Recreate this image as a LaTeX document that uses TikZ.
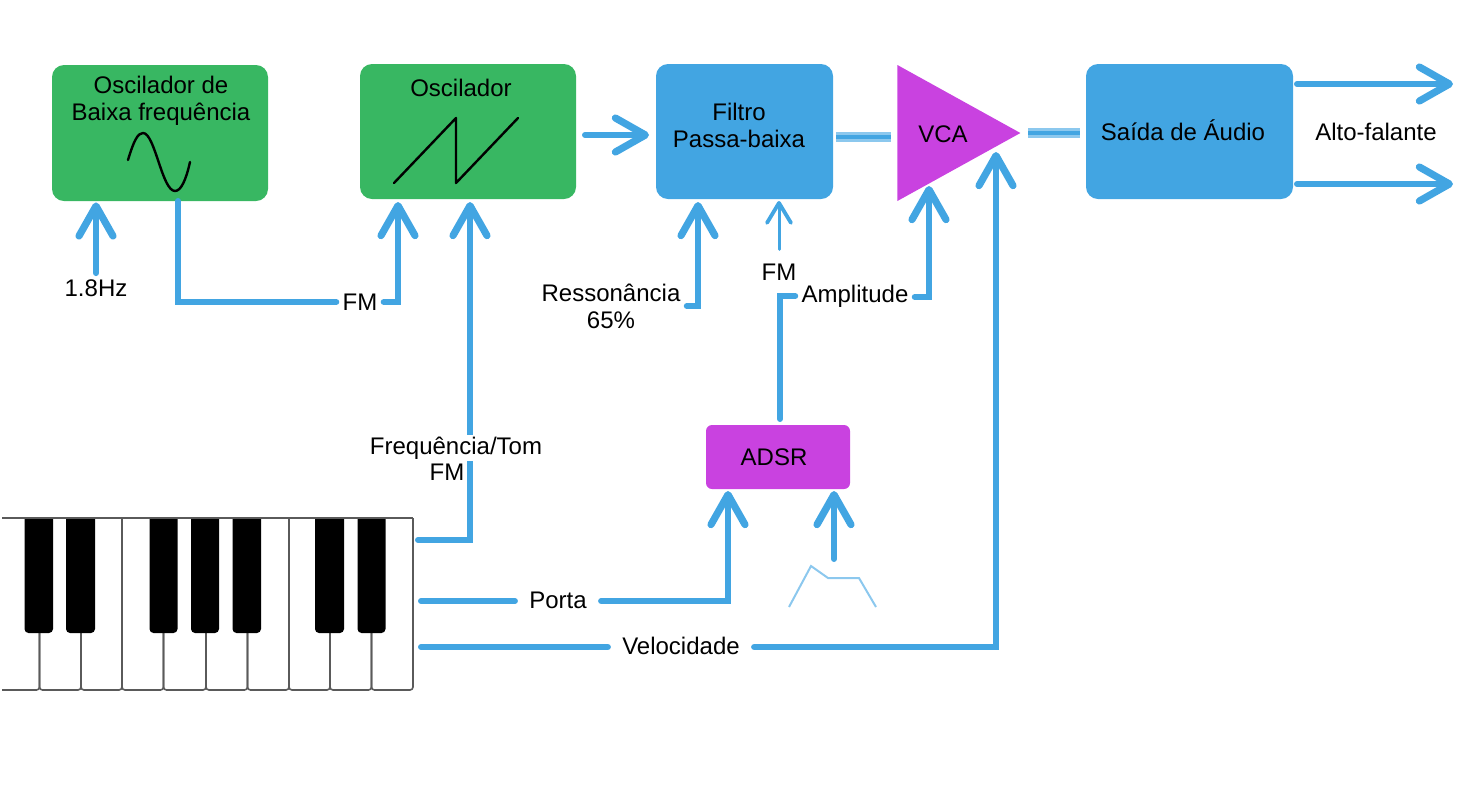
\documentclass[tikz,border=0pt]{standalone}
\usepackage{fontspec}
\setmainfont{Liberation Sans}
\usepackage{xcolor}
\usetikzlibrary{arrows.meta, shapes.geometric, calc}
\definecolor{sigblue}{HTML}{42A5E2}
\definecolor{bandblue}{HTML}{8CC8EE}
\definecolor{oscgreen}{HTML}{38B762}
\definecolor{vcapurple}{HTML}{C942E0}
\definecolor{keygray}{HTML}{5A5A5A}

\begin{document}
\begin{tikzpicture}[
        x=0.5pt, y=-0.5pt,
        box/.style={rectangle, rounded corners=6pt, inner sep=0pt},
        lbl/.style={font=\fontsize{12}{13.5}\selectfont, align=center, inner sep=3pt},
        gaplbl/.style={lbl, fill=white},
        sig/.style={line width=3pt, sigblue, line cap=round},
        sigarrow/.style={sig, -{Straight Barb[length=15pt, width=17pt, round, line width=3.6pt]}, shorten >=0.5pt},
        sigthin/.style={line width=1.5pt, sigblue, line cap=round, shorten <=4pt, -{Straight Barb[length=10pt, width=12pt, round, line width=1.9pt]}},
        band/.style={line width=1.4pt, draw=bandblue, double=sigblue, double distance=2.2pt},
        wave/.style={line width=1.2pt, black, line cap=round, line join=round},
        keyedge/.style={line width=0.8pt, keygray},
    ]
    \useasboundingbox (0,0) rectangle (1474,794);
    % BLOCKS
    \node[box, fill=oscgreen, minimum width=108pt, minimum height=68pt] (lfo) at (160,133) {};
    \node[box, fill=oscgreen, minimum width=108pt, minimum height=67.5pt] (osc) at (468,131.5) {};
    \node[box, fill=sigblue, minimum width=88.5pt, minimum height=67.5pt] (filtro) at (744.5,131.5) {};
    \node[isosceles triangle, isosceles triangle stretches, fill=vcapurple, inner sep=0pt,
        minimum width=68pt, minimum height=61.5pt, anchor=lower side] (vca) at (897,133) {};
    \node[box, fill=sigblue, minimum width=103.5pt, minimum height=67.5pt] (saida) at (1189.5,131.5) {};
    \node[box, rounded corners=3pt, fill=vcapurple, minimum width=72pt, minimum height=32pt] (adsr) at (778,457) {};
    \node[lbl] (lfotxt) at (161,101) {Oscilador de\\Baixa frequência};
    \node[lbl] (osctxt) at (461,88) {Oscilador};
    \node[lbl] (filtrotxt) at (739,125) {Filtro\\Passa-baixa};
    \node[lbl] (vcatxt) at (943,134) {VCA};
    \node[lbl] (saidatxt) at (1183,130) {Saída de Áudio};
    \node[lbl] (adsrtxt) at (774,457) {ADSR};
    % WAVES
    \draw[wave] (128,160) .. controls (134,140) and (138,133) .. (143,133)
        .. controls (155,133) and (162,191) .. (175,191)
        .. controls (181,191) and (186,180) .. (190,162);
    \draw[wave] (394,183) -- (456,118) -- (456,183) -- (518,118);
    \draw[line width=1pt, bandblue] (789,607) -- (811,566) -- (828,578) -- (859,578) -- (876,607);
    % KEYBOARD
    \draw[keyedge, rounded corners=1.5pt] (2,690) -- (39.5,690) -- (39.5,633);
    \foreach \a/\b in {39.5/81,81/122,122/163.5,163.5/206,206/247.5,247.5/289,289/330,330/371.5,371.5/413}
        \draw[keyedge, rounded corners=1.5pt] (\a,633) -- (\a,690) -- (\b,690) -- (\b,633);
    \draw[keyedge] (413,518) -- (413,640);
    \draw[keyedge] (122,518) -- (122,640);
    \draw[keyedge] (289,518) -- (289,640);
    \foreach \a/\b in {24.5/53,66/95,149.5/177.5,191/219,232.5/261,315/344,357.5/385.5}
        \fill[black, rounded corners=2pt] (\a,512) rectangle (\b,633);
    \fill[white] (0,500) rectangle (420,517.5);
    \draw[keyedge] (2,518) -- (413,518);
    % LABELS
    \node[lbl] (hz) at (96,288) {1.8Hz};
    \node[gaplbl] (fmlfo) at (360,302) {FM};
    \node[lbl] (res) at (611,306) {Ressonância\\65\%};
    \node[lbl] (fmfiltro) at (779,272) {FM};
    \node[gaplbl] (amp) at (855,296) {Amplitude};
    \node[lbl] (alto) at (1376,132) {Alto-falante};
    \node[gaplbl, inner sep=7pt] (porta) at (558,600) {Porta};
    \node[gaplbl, inner sep=7pt] (veloc) at (681,646) {Velocidade};
    % FREE ENDS
    \coordinate (kbfreq) at (418,540);
    \coordinate (kbporta) at (421,601);
    \coordinate (kbveloc) at (421,647);
    \coordinate (oscfm) at (398,201);
    \coordinate (oscfreq) at (470,201);
    \coordinate (filtrores) at (698,201);
    \coordinate (filtrofm) at (779,201);
    \coordinate (vcaamp) at (929,185);
    \coordinate (vcaveloc) at (996,151);
    \coordinate (adsrporta) at (728,490);
    \coordinate (adsrenv) at (834,490);
    \coordinate (envtop) at (834,559);
    \coordinate (adsrout) at (780,419);
    \coordinate (lfoout) at (178,201);
    \coordinate (oscout) at (585,135);
    \coordinate (filtroin) at (650,135);
    \coordinate (out1a) at (1297,84);
    \coordinate (out1b) at (1454,84);
    \coordinate (out2a) at (1297,184);
    \coordinate (out2b) at (1454,184);
    \coordinate (banda) at (836,137);
    \coordinate (bandb) at (891,137);
    \coordinate (bandc) at (1028,133);
    \coordinate (bandd) at (1080,133);
    % CONNECTORS
    \draw[sigarrow] (hz) -- (hz |- lfo.south);
    \draw[sig] (lfoout) |- (fmlfo);
    \draw[sigarrow] (fmlfo) -| (oscfm);
    \draw[sigarrow] (kbfreq) -| (oscfreq);
    \draw[sigarrow] (oscout) -- (filtroin);
    \draw[sigarrow] (res) -| (filtrores);
    \draw[sigthin] (fmfiltro) -- (filtrofm);
    \draw[band] (banda) -- (bandb);
    \draw[band] (bandc) -- (bandd);
    \draw[sig] (adsrout) |- (amp.west);
    \draw[sigarrow] ($(amp.east)+(0,1)$) -| (vcaamp);
    \draw[sig] (kbporta) -- (porta.west |- kbporta);
    \draw[sigarrow] (porta.east |- kbporta) -| (adsrporta);
    \draw[sigarrow] (envtop) -- (adsrenv);
    \draw[sig] (kbveloc) -- (veloc.west |- kbveloc);
    \draw[sigarrow] (veloc.east |- kbveloc) -| (vcaveloc);
    \draw[sigarrow] (out1a) -- (out1b);
    \draw[sigarrow] (out2a) -- (out2b);
    % LABELS OVER THE LINE
    \node[gaplbl, inner sep=1pt] (freq) at (456,448) {Frequência/Tom};
    \node[lbl] (fmfreq) at (447,472) {FM};
\end{tikzpicture}
\end{document}
